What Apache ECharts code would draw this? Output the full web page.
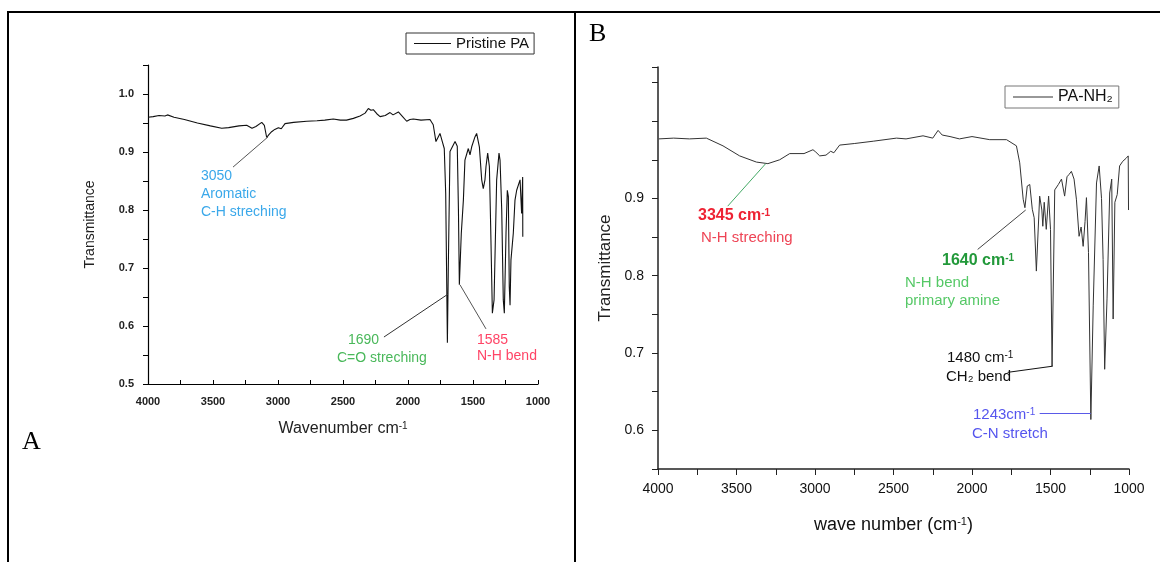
<!DOCTYPE html>
<html>
<head>
<meta charset="utf-8">
<script src="https://cdn.jsdelivr.net/npm/echarts@6/dist/echarts.min.js"></script>
<style>
  body { margin: 0; background: #fff; }
  #chart { width: 1160px; height: 562px; }
</style>
</head>
<body>
<div id="chart"></div>
<script>
// panel A : Pristine PA (wavenumber, transmittance)
const waveA = [4000, 3960, 3915, 3870, 3850, 3800, 3720, 3620, 3520, 3433, 3380, 3300, 3241, 3200, 3170, 3125, 3105, 3087, 3070, 3049,
  3025, 3010, 2997, 2975, 2946, 2880, 2779, 2700, 2640, 2575, 2520, 2473, 2420, 2369, 2330, 2305, 2285, 2267, 2240, 2215,
  2175, 2138, 2115, 2100, 2074, 2045, 2010, 1985, 1959, 1900, 1831, 1806, 1785, 1754, 1736, 1721, 1710, 1697, 1690, 1677,
  1664, 1638, 1621, 1612, 1605, 1590, 1574, 1562, 1536, 1523, 1510, 1485, 1472, 1459, 1451, 1433, 1421, 1408, 1400, 1387,
  1374, 1364, 1351, 1338, 1318, 1300, 1292, 1279, 1267, 1259, 1246, 1236, 1228, 1221, 1215, 1208, 1190, 1177, 1164, 1138,
  1126, 1118, 1117];
const transA = [0.960, 0.961, 0.963, 0.962, 0.964, 0.960, 0.956, 0.950, 0.945, 0.941, 0.942, 0.945, 0.946, 0.941, 0.944, 0.951, 0.946, 0.925, 0.930, 0.935,
  0.939, 0.937, 0.942, 0.940, 0.949, 0.951, 0.953, 0.954, 0.955, 0.957, 0.955, 0.955, 0.958, 0.962, 0.967, 0.975, 0.972, 0.973, 0.966, 0.961,
  0.963, 0.968, 0.964, 0.964, 0.969, 0.962, 0.953, 0.956, 0.957, 0.955, 0.956, 0.947, 0.918, 0.932, 0.918, 0.906, 0.829, 0.571, 0.700, 0.901,
  0.898, 0.918, 0.910, 0.800, 0.671, 0.760, 0.817, 0.886, 0.906, 0.895, 0.909, 0.926, 0.932, 0.935, 0.909, 0.852, 0.837, 0.852, 0.875, 0.898,
  0.875, 0.771, 0.622, 0.645, 0.852, 0.898, 0.886, 0.800, 0.645, 0.622, 0.760, 0.834, 0.823, 0.668, 0.636, 0.714, 0.760, 0.817, 0.834, 0.852,
  0.794, 0.857, 0.754];

// panel B : PA-NH2
const waveB = [3995, 3900, 3800, 3692, 3586, 3480, 3373, 3300, 3225, 3161, 3070, 3013, 2995, 2970, 2930, 2900, 2880, 2843, 2750, 2629,
  2481, 2420, 2312, 2250, 2216, 2190, 2140, 2080, 2000, 1887, 1780, 1717, 1696, 1674, 1663, 1648, 1632, 1616, 1604, 1590,
  1569, 1555, 1549, 1540, 1527, 1512, 1500, 1490, 1473, 1450, 1430, 1410, 1395, 1382, 1367, 1350, 1335, 1318, 1305, 1292,
  1280, 1271, 1258, 1243, 1228, 1207, 1190, 1175, 1165, 1155, 1140, 1123, 1110, 1101, 1090, 1075, 1060, 1040, 1018, 1005,
  1003];
const transB = [0.977, 0.978, 0.977, 0.978, 0.968, 0.955, 0.947, 0.945, 0.950, 0.958, 0.958, 0.963, 0.960, 0.955, 0.956, 0.961, 0.959, 0.969, 0.971, 0.974,
  0.978, 0.977, 0.981, 0.978, 0.988, 0.982, 0.980, 0.977, 0.980, 0.976, 0.976, 0.968, 0.946, 0.899, 0.888, 0.916, 0.918, 0.886, 0.875, 0.806,
  0.903, 0.885, 0.864, 0.895, 0.860, 0.903, 0.860, 0.683, 0.911, 0.918, 0.925, 0.903, 0.928, 0.931, 0.935, 0.925, 0.899, 0.851, 0.863, 0.838,
  0.870, 0.901, 0.830, 0.614, 0.761, 0.920, 0.942, 0.900, 0.821, 0.679, 0.770, 0.907, 0.925, 0.744, 0.895, 0.905, 0.942, 0.948, 0.952, 0.955,
  0.885];

const font = '"Liberation Sans", Arial, sans-serif';
const serif = '"Liberation Serif", "Times New Roman", serif';

const chart = echarts.init(document.getElementById('chart'));

const xLabel = v => (v % 500 === 0 ? String(v) : '');
const yLabelA = v => (Math.round(v * 100) % 10 === 0 ? v.toFixed(1) : '');
const yLabelB = v => (Math.round(v * 100) % 10 === 0 && v < 0.99 ? v.toFixed(1) : '');

function pairs(xs, ys) {
  return xs.map((x, i) => [x, ys[i]]);
}

// leader line (data coords)
function leader(a, b, color) {
  return [{ coord: a, lineStyle: { color: color, width: 1, type: 'solid' } }, { coord: b }];
}

function txt(x, y, text, color, size) {
  return {
    type: 'text', left: x, top: y,
    style: { text: text, fill: color, font: size + 'px ' + font }
  };
}

// text with a raised "-1"
function supTxt(x, y, text, color, size, bold) {
  return {
    type: 'text', x: x, y: y,
    style: {
      text: text, fill: color, verticalAlign: 'middle',
      rich: {
        m: { fontSize: size, fontFamily: font, fontWeight: bold ? 'bold' : 'normal', lineHeight: 20, verticalAlign: 'top', fill: color },
        u: { fontSize: 10, fontFamily: font, fontWeight: bold ? 'bold' : 'normal', lineHeight: 9, verticalAlign: 'top', fill: color }
      }
    }
  };
}

const option = {
  animation: false,
  backgroundColor: '#fff',
  grid: [
    { left: 148, top: 65, width: 390, height: 319 },
    { left: 658, top: 67, width: 471, height: 402 }
  ],
  legend: [
    {
      data: ['Pristine PA'], left: 406, top: 33,
      borderColor: '#333', borderWidth: 1, padding: [3, 5, 3, 8],
      icon: 'rect', itemWidth: 37, itemHeight: 1, itemGap: 4,
      textStyle: { fontFamily: font, fontSize: 15, color: '#111' }
    },
    {
      data: ['PA-NH₂'], left: 1005, top: 86,
      borderColor: '#777', borderWidth: 1, padding: [3, 6, 3, 8],
      icon: 'rect', itemWidth: 40, itemHeight: 1, itemGap: 0,
      textStyle: { fontFamily: font, fontSize: 16, color: '#111' }
    }
  ],
  xAxis: [
    {
      gridIndex: 0, type: 'value', inverse: true, min: 1000, max: 4000, interval: 250,
      name: '{m|Wavenumber cm}{u|-1}', nameLocation: 'middle', nameGap: 37,
      nameTextStyle: {
        color: '#222',
        rich: {
          m: { fontSize: 16, fontFamily: font, lineHeight: 20, verticalAlign: 'top', color: '#222' },
          u: { fontSize: 10, fontFamily: font, lineHeight: 9, verticalAlign: 'top', color: '#222' }
        }
      },
      axisLine: { onZero: false, lineStyle: { color: '#000', width: 1.2 } },
      axisTick: { inside: true, length: 4, lineStyle: { color: '#000' } },
      axisLabel: { formatter: xLabel, margin: 12, fontFamily: font, fontSize: 11, fontWeight: 'bold', color: '#222' },
      splitLine: { show: false }
    },
    {
      gridIndex: 1, type: 'value', inverse: true, min: 1000, max: 4000, interval: 250,
      name: '{m|wave number (cm}{u|-1}{m|)}', nameLocation: 'middle', nameGap: 47,
      nameTextStyle: {
        color: '#111',
        rich: {
          m: { fontSize: 18, fontFamily: font, lineHeight: 22, verticalAlign: 'top', color: '#111' },
          u: { fontSize: 11, fontFamily: font, lineHeight: 9, verticalAlign: 'top', color: '#111' }
        }
      },
      axisLine: { onZero: false, lineStyle: { color: '#222', width: 1.5 } },
      axisTick: { length: 6, lineStyle: { color: '#222' } },
      axisLabel: { formatter: xLabel, margin: 13, fontFamily: font, fontSize: 14, color: '#111' },
      splitLine: { show: false }
    }
  ],
  yAxis: [
    {
      gridIndex: 0, type: 'value', min: 0.5, max: 1.05, interval: 0.05,
      name: 'Transmittance', nameLocation: 'middle', nameGap: 51,
      nameTextStyle: { fontFamily: font, fontSize: 14, color: '#222' },
      axisLine: { show: true, onZero: false, lineStyle: { color: '#000', width: 1.2 } },
      axisTick: { show: true, length: 5, lineStyle: { color: '#000' } },
      axisLabel: { formatter: yLabelA, margin: 14, fontFamily: font, fontSize: 11, fontWeight: 'bold', color: '#222' },
      splitLine: { show: false }
    },
    {
      gridIndex: 1, type: 'value', min: 0.55, max: 1.07, interval: 0.05,
      name: 'Transmittance', nameLocation: 'middle', nameGap: 44,
      nameTextStyle: { fontFamily: font, fontSize: 17, color: '#222' },
      axisLine: { show: true, onZero: false, lineStyle: { color: '#222', width: 1.5 } },
      axisTick: { show: true, length: 6, lineStyle: { color: '#222' } },
      axisLabel: { formatter: yLabelB, margin: 14, fontFamily: font, fontSize: 14, color: '#111' },
      splitLine: { show: false }
    }
  ],
  series: [
    {
      name: 'Pristine PA', type: 'line', xAxisIndex: 0, yAxisIndex: 0,
      data: pairs(waveA, transA), showSymbol: false, symbol: 'none',
      lineStyle: { color: '#111', width: 1.1 }, itemStyle: { color: '#111' },
      markLine: {
        silent: true, symbol: 'none', label: { show: false },
        data: [
          leader([3346, 0.874], [3077, 0.926], '#555'),
          leader([2185, 0.581], [1692, 0.655], '#333'),
          leader([1600, 0.671], [1400, 0.595], '#555')
        ]
      }
    },
    {
      name: 'PA-NH₂', type: 'line', xAxisIndex: 1, yAxisIndex: 1,
      data: pairs(waveB, transB), showSymbol: false, symbol: 'none',
      lineStyle: { color: '#333', width: 1 }, itemStyle: { color: '#333' },
      markLine: {
        silent: true, symbol: 'none', label: { show: false },
        data: [
          leader([3556, 0.890], [3314, 0.945], '#44aa66'),
          leader([1964, 0.834], [1658, 0.885], '#444'),
          leader([1773, 0.675], [1486, 0.683], '#111'),
          leader([1569, 0.622], [1244, 0.622], '#5a5ae8')
        ]
      }
    }
  ],
  graphic: [
    // table frame
    { type: 'line', shape: { x1: 7, y1: 12, x2: 1160, y2: 12 }, style: { stroke: '#000', lineWidth: 2 } },
    { type: 'line', shape: { x1: 8, y1: 12, x2: 8, y2: 562 }, style: { stroke: '#000', lineWidth: 2 } },
    { type: 'line', shape: { x1: 575, y1: 12, x2: 575, y2: 562 }, style: { stroke: '#000', lineWidth: 2 } },
    // panel letters
    { type: 'text', left: 22, top: 429, style: { text: 'A', fill: '#000', font: '26px ' + serif } },
    { type: 'text', left: 589, top: 21, style: { text: 'B', fill: '#000', font: '26px ' + serif } },
    // panel A notes
    txt(201, 169, '3050', '#3aa8ea', 14),
    txt(201, 187, 'Aromatic', '#3aa8ea', 14),
    txt(201, 205, 'C-H streching', '#3aa8ea', 14),
    txt(348, 333, '1690', '#49b85a', 14),
    txt(337, 351, 'C=O streching', '#49b85a', 14),
    txt(477, 333, '1585', '#ff4466', 14),
    txt(477, 349, 'N-H bend', '#ff4466', 14),
    // panel B notes
    supTxt(698, 218, '{m|3345 cm}{u|-1}', '#ee2233', 16, true),
    txt(701, 230, 'N-H streching', '#ee4455', 15),
    supTxt(942, 263, '{m|1640 cm}{u|-1}', '#22993a', 16, true),
    txt(905, 275, 'N-H bend', '#55c866', 15),
    txt(905, 293, 'primary amine', '#55c866', 15),
    supTxt(947, 360, '{m|1480 cm}{u|-1}', '#111', 15, false),
    txt(946, 369, 'CH₂ bend', '#111', 15),
    supTxt(973, 417, '{m|1243cm}{u|-1}', '#5555ee', 15, false),
    txt(972, 426, 'C-N stretch', '#5555ee', 15)
  ]
};

chart.setOption(option);
</script>
</body>
</html>
